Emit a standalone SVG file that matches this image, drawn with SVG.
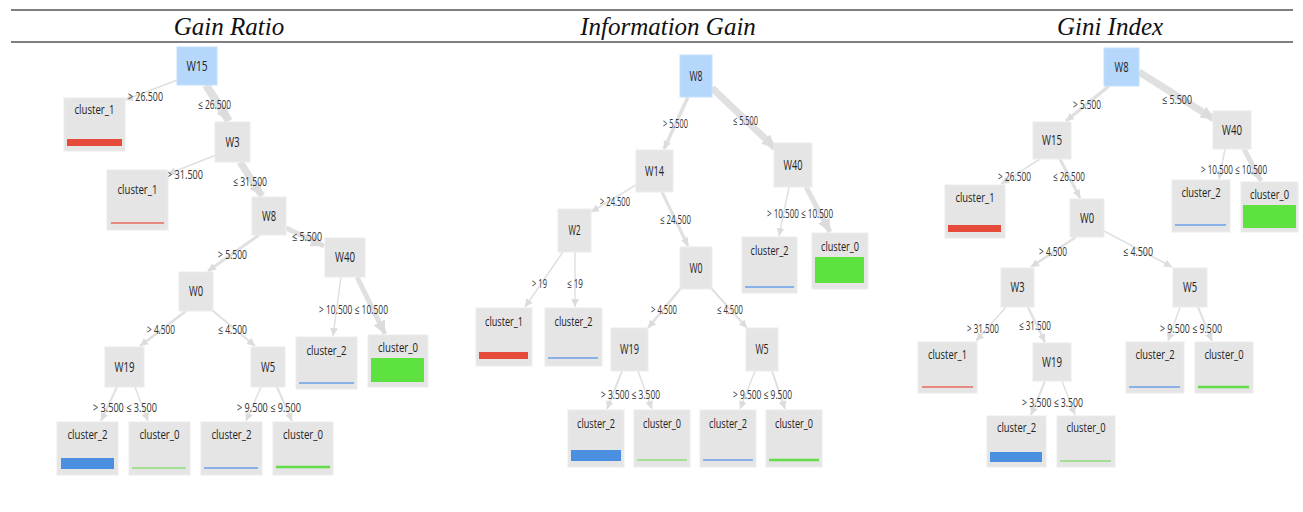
<svg xmlns="http://www.w3.org/2000/svg" width="1303" height="512" viewBox="0 0 1303 512">
  <style>
    .rule { stroke: #000; stroke-width: 1.2; }
    .title { font-family: "Liberation Serif", "Times New Roman", serif; font-style: italic; font-size: 25px; fill: #111; text-anchor: middle; }
    .box { fill: #e5e5e5; stroke: #ececec; stroke-width: 1; }
    .root { fill: #b4d7fb; stroke: #c4e0fc; stroke-width: 1; }
    .nl { font-family: "Open Sans", "Noto Sans", sans-serif; font-size: 14px; fill: #222; text-anchor: middle; }
    .leaf .nl { font-size: 13px; }
    .el { font-family: "Open Sans", "Noto Sans", sans-serif; font-size: 12.5px; fill: #333; }
    .e { stroke: #e0e0e0; fill: none; stroke-linecap: butt; }
    .red { fill: #e64a3b; }
    .blue { fill: #4a8fe0; }
    .green { fill: #5de23f; }
    .redl { stroke: #e66a5e; }
    .bluel { stroke: #6a9fe4; }
    .greenl { stroke: #63dc48; }
  </style>
  <defs>
    <marker id="ah" viewBox="0 0 10 10" refX="10" refY="5" markerWidth="8" markerHeight="8" markerUnits="userSpaceOnUse" orient="auto">
      <path d="M0,0 L10,5 L0,10 z" fill="#dcdcdc"/>
    </marker>
    <marker id="ahl" viewBox="0 0 10 10" refX="10" refY="5" markerWidth="13" markerHeight="13" markerUnits="userSpaceOnUse" orient="auto">
      <path d="M0,0 L10,5 L0,10 z" fill="#dcdcdc"/>
    </marker>
  </defs>

  <!-- header rules and column titles -->
  <line class="rule" x1="11" y1="10" x2="1293" y2="10"/>
  <line class="rule" x1="11" y1="42" x2="1293" y2="42"/>
  <text class="title" x="229" y="35">Gain Ratio</text>
  <text class="title" x="668" y="35">Information Gain</text>
  <text class="title" x="1110" y="35">Gini Index</text>

  <!-- connectors -->
  <g id="connectors">
    <!-- Gain Ratio tree -->
    <line class="e" x1="180" y1="79" x2="125" y2="100" stroke-width="1.5" marker-end="url(#ah)"/>
    <line class="e" x1="206" y1="85" x2="229" y2="121" stroke-width="8" marker-end="url(#ahl)"/>
    <line class="e" x1="216" y1="155" x2="168" y2="174" stroke-width="1.5" marker-end="url(#ah)"/>
    <line class="e" x1="240" y1="162" x2="262" y2="196" stroke-width="7" marker-end="url(#ahl)"/>
    <line class="e" x1="259" y1="235" x2="208" y2="271" stroke-width="3" marker-end="url(#ah)"/>
    <line class="e" x1="286" y1="228" x2="324" y2="246" stroke-width="5" marker-end="url(#ahl)"/>
    <line class="e" x1="186" y1="311" x2="140" y2="346" stroke-width="2.5" marker-end="url(#ah)"/>
    <line class="e" x1="212" y1="310" x2="255" y2="346" stroke-width="2" marker-end="url(#ah)"/>
    <line class="e" x1="341" y1="277" x2="333" y2="336" stroke-width="1.5" marker-end="url(#ah)"/>
    <line class="e" x1="357" y1="277" x2="385" y2="334" stroke-width="5" marker-end="url(#ahl)"/>
    <line class="e" x1="117" y1="387" x2="101" y2="421" stroke-width="2" marker-end="url(#ah)"/>
    <line class="e" x1="135" y1="387" x2="148" y2="421" stroke-width="1.5" marker-end="url(#ah)"/>
    <line class="e" x1="261" y1="387" x2="246" y2="421" stroke-width="1.5" marker-end="url(#ah)"/>
    <line class="e" x1="277" y1="387" x2="292" y2="421" stroke-width="2" marker-end="url(#ah)"/>

    <!-- Information Gain tree -->
    <line class="e" x1="688" y1="97" x2="664" y2="149" stroke-width="3.5" marker-end="url(#ah)"/>
    <line class="e" x1="712" y1="88" x2="775" y2="148" stroke-width="7" marker-end="url(#ahl)"/>
    <line class="e" x1="636" y1="185" x2="591" y2="212" stroke-width="1.5" marker-end="url(#ah)"/>
    <line class="e" x1="662" y1="192" x2="688" y2="246" stroke-width="3" marker-end="url(#ah)"/>
    <line class="e" x1="789" y1="187" x2="779" y2="236" stroke-width="1.5" marker-end="url(#ah)"/>
    <line class="e" x1="806" y1="187" x2="830" y2="232" stroke-width="5" marker-end="url(#ahl)"/>
    <line class="e" x1="563" y1="252" x2="525" y2="307" stroke-width="1.5" marker-end="url(#ah)"/>
    <line class="e" x1="575" y1="252" x2="575" y2="307" stroke-width="1.5" marker-end="url(#ah)"/>
    <line class="e" x1="681" y1="288" x2="648" y2="328" stroke-width="2.5" marker-end="url(#ah)"/>
    <line class="e" x1="711" y1="288" x2="747" y2="328" stroke-width="2" marker-end="url(#ah)"/>
    <line class="e" x1="622" y1="371" x2="607" y2="409" stroke-width="2" marker-end="url(#ah)"/>
    <line class="e" x1="638" y1="371" x2="652" y2="409" stroke-width="1.5" marker-end="url(#ah)"/>
    <line class="e" x1="755" y1="371" x2="740" y2="409" stroke-width="1.5" marker-end="url(#ah)"/>
    <line class="e" x1="772" y1="371" x2="785" y2="409" stroke-width="2" marker-end="url(#ah)"/>

    <!-- Gini Index tree -->
    <line class="e" x1="1109" y1="86" x2="1066" y2="121" stroke-width="3.5" marker-end="url(#ah)"/>
    <line class="e" x1="1139" y1="72" x2="1214" y2="119" stroke-width="7" marker-end="url(#ahl)"/>
    <line class="e" x1="1040" y1="159" x2="1001" y2="184" stroke-width="1.5" marker-end="url(#ah)"/>
    <line class="e" x1="1060" y1="159" x2="1080" y2="198" stroke-width="3" marker-end="url(#ah)"/>
    <line class="e" x1="1225" y1="149" x2="1219" y2="179" stroke-width="1.5" marker-end="url(#ah)"/>
    <line class="e" x1="1244" y1="149" x2="1261" y2="181" stroke-width="5" marker-end="url(#ahl)"/>
    <line class="e" x1="1076" y1="237" x2="1031" y2="267" stroke-width="2.5" marker-end="url(#ah)"/>
    <line class="e" x1="1104" y1="231" x2="1172" y2="267" stroke-width="1.5" marker-end="url(#ah)"/>
    <line class="e" x1="1006" y1="307" x2="976" y2="341" stroke-width="1.5" marker-end="url(#ah)"/>
    <line class="e" x1="1028" y1="307" x2="1045" y2="342" stroke-width="2.5" marker-end="url(#ah)"/>
    <line class="e" x1="1180" y1="307" x2="1168" y2="341" stroke-width="1.5" marker-end="url(#ah)"/>
    <line class="e" x1="1198" y1="307" x2="1212" y2="341" stroke-width="2" marker-end="url(#ah)"/>
    <line class="e" x1="1045" y1="381" x2="1031" y2="415" stroke-width="2" marker-end="url(#ah)"/>
    <line class="e" x1="1062" y1="381" x2="1075" y2="415" stroke-width="1.5" marker-end="url(#ah)"/>
  </g>

  <!-- edge labels -->
  <g id="edge-labels">
    <!-- Gain Ratio -->
    <text class="el" x="128" y="101" textLength="35" lengthAdjust="spacingAndGlyphs">&gt; 26.500</text>
    <text class="el" x="198" y="109" textLength="33" lengthAdjust="spacingAndGlyphs">≤ 26.500</text>
    <text class="el" x="167" y="179" textLength="36" lengthAdjust="spacingAndGlyphs">&gt; 31.500</text>
    <text class="el" x="233" y="186" textLength="34" lengthAdjust="spacingAndGlyphs">≤ 31.500</text>
    <text class="el" x="292" y="241" textLength="30" lengthAdjust="spacingAndGlyphs">≤ 5.500</text>
    <text class="el" x="218" y="259" textLength="29" lengthAdjust="spacingAndGlyphs">&gt; 5.500</text>
    <text class="el" x="147" y="334" textLength="28" lengthAdjust="spacingAndGlyphs">&gt; 4.500</text>
    <text class="el" x="218" y="334" textLength="29" lengthAdjust="spacingAndGlyphs">≤ 4.500</text>
    <text class="el" x="319" y="314" textLength="69" lengthAdjust="spacingAndGlyphs">&gt; 10.500 ≤ 10.500</text>
    <text class="el" x="93" y="412" textLength="64" lengthAdjust="spacingAndGlyphs">&gt; 3.500 ≤ 3.500</text>
    <text class="el" x="237" y="412" textLength="64" lengthAdjust="spacingAndGlyphs">&gt; 9.500 ≤ 9.500</text>
    <!-- Information Gain -->
    <text class="el" x="663" y="128" textLength="25" lengthAdjust="spacingAndGlyphs">&gt; 5.500</text>
    <text class="el" x="733" y="125" textLength="25" lengthAdjust="spacingAndGlyphs">≤ 5.500</text>
    <text class="el" x="600" y="206" textLength="30" lengthAdjust="spacingAndGlyphs">&gt; 24.500</text>
    <text class="el" x="660" y="224" textLength="31" lengthAdjust="spacingAndGlyphs">≤ 24.500</text>
    <text class="el" x="767" y="218" textLength="66" lengthAdjust="spacingAndGlyphs">&gt; 10.500 ≤ 10.500</text>
    <text class="el" x="532" y="288" textLength="15" lengthAdjust="spacingAndGlyphs">&gt; 19</text>
    <text class="el" x="567" y="288" textLength="16" lengthAdjust="spacingAndGlyphs">≤ 19</text>
    <text class="el" x="651" y="314" textLength="26" lengthAdjust="spacingAndGlyphs">&gt; 4.500</text>
    <text class="el" x="717" y="314" textLength="26" lengthAdjust="spacingAndGlyphs">≤ 4.500</text>
    <text class="el" x="601" y="399" textLength="59" lengthAdjust="spacingAndGlyphs">&gt; 3.500 ≤ 3.500</text>
    <text class="el" x="733" y="399" textLength="59" lengthAdjust="spacingAndGlyphs">&gt; 9.500 ≤ 9.500</text>
    <!-- Gini Index -->
    <text class="el" x="1073" y="109" textLength="28" lengthAdjust="spacingAndGlyphs">&gt; 5.500</text>
    <text class="el" x="1162" y="104" textLength="30" lengthAdjust="spacingAndGlyphs">≤ 5.500</text>
    <text class="el" x="998" y="181" textLength="33" lengthAdjust="spacingAndGlyphs">&gt; 26.500</text>
    <text class="el" x="1053" y="181" textLength="32" lengthAdjust="spacingAndGlyphs">≤ 26.500</text>
    <text class="el" x="1201" y="174" textLength="66" lengthAdjust="spacingAndGlyphs">&gt; 10.500 ≤ 10.500</text>
    <text class="el" x="1039" y="256" textLength="28" lengthAdjust="spacingAndGlyphs">&gt; 4.500</text>
    <text class="el" x="1123" y="256" textLength="30" lengthAdjust="spacingAndGlyphs">≤ 4.500</text>
    <text class="el" x="967" y="333" textLength="32" lengthAdjust="spacingAndGlyphs">&gt; 31.500</text>
    <text class="el" x="1019" y="330" textLength="32" lengthAdjust="spacingAndGlyphs">≤ 31.500</text>
    <text class="el" x="1160" y="333" textLength="62" lengthAdjust="spacingAndGlyphs">&gt; 9.500 ≤ 9.500</text>
    <text class="el" x="1022" y="407" textLength="61" lengthAdjust="spacingAndGlyphs">&gt; 3.500 ≤ 3.500</text>
  </g>

  <!-- Gain Ratio nodes -->
  <g id="gr-W15"><rect class="root" x="177" y="47" width="40" height="38"/><text class="nl" x="197" y="71" textLength="21" lengthAdjust="spacingAndGlyphs">W15</text></g>
  <g id="gr-W3"><rect class="box" x="215" y="122" width="35" height="40"/><text class="nl" x="232.5" y="147" textLength="14" lengthAdjust="spacingAndGlyphs">W3</text></g>
  <g id="gr-W8"><rect class="box" x="252" y="197" width="34" height="38"/><text class="nl" x="269" y="221" textLength="14" lengthAdjust="spacingAndGlyphs">W8</text></g>
  <g id="gr-W40"><rect class="box" x="325" y="238" width="40" height="39"/><text class="nl" x="345" y="262" textLength="20" lengthAdjust="spacingAndGlyphs">W40</text></g>
  <g id="gr-W0"><rect class="box" x="179" y="272" width="34" height="39"/><text class="nl" x="196" y="296" textLength="14" lengthAdjust="spacingAndGlyphs">W0</text></g>
  <g id="gr-W19"><rect class="box" x="105" y="347" width="39" height="40"/><text class="nl" x="124.5" y="372" textLength="20" lengthAdjust="spacingAndGlyphs">W19</text></g>
  <g id="gr-W5"><rect class="box" x="251" y="347" width="34" height="40"/><text class="nl" x="268" y="372" textLength="14" lengthAdjust="spacingAndGlyphs">W5</text></g>
  <g id="gr-leaf-1a" class="leaf"><rect class="box" x="64" y="98" width="61" height="53"/><text class="nl" x="94.5" y="114" textLength="40" lengthAdjust="spacingAndGlyphs">cluster_1</text><rect class="red" x="67" y="139" width="55" height="7"/></g>
  <g id="gr-leaf-1b" class="leaf"><rect class="box" x="107" y="170" width="61" height="60"/><text class="nl" x="137.5" y="194" textLength="40" lengthAdjust="spacingAndGlyphs">cluster_1</text><line class="redl" x1="111" y1="223" x2="164" y2="223" stroke-width="1.5"/></g>
  <g id="gr-leaf-2a" class="leaf"><rect class="box" x="296" y="337" width="61" height="52"/><text class="nl" x="326.5" y="355" textLength="40" lengthAdjust="spacingAndGlyphs">cluster_2</text><line class="bluel" x1="299" y1="383" x2="354" y2="383" stroke-width="1.5"/></g>
  <g id="gr-leaf-0a" class="leaf"><rect class="box" x="368" y="335" width="60" height="52"/><text class="nl" x="398" y="352" textLength="40" lengthAdjust="spacingAndGlyphs">cluster_0</text><rect class="green" x="371" y="358" width="53" height="24"/></g>
  <g id="gr-leaf-2b" class="leaf"><rect class="box" x="57" y="422" width="61" height="53"/><text class="nl" x="87.5" y="439" textLength="40" lengthAdjust="spacingAndGlyphs">cluster_2</text><rect class="blue" x="61" y="458" width="53" height="11"/></g>
  <g id="gr-leaf-0b" class="leaf"><rect class="box" x="129" y="422" width="61" height="53"/><text class="nl" x="159.5" y="439" textLength="40" lengthAdjust="spacingAndGlyphs">cluster_0</text><line class="greenl" x1="132" y1="468" x2="186" y2="468" stroke-width="1.2"/></g>
  <g id="gr-leaf-2c" class="leaf"><rect class="box" x="201" y="422" width="61" height="53"/><text class="nl" x="231.5" y="439" textLength="40" lengthAdjust="spacingAndGlyphs">cluster_2</text><line class="bluel" x1="204" y1="468" x2="258" y2="468" stroke-width="1.5"/></g>
  <g id="gr-leaf-0c" class="leaf"><rect class="box" x="273" y="422" width="60" height="53"/><text class="nl" x="303" y="439" textLength="40" lengthAdjust="spacingAndGlyphs">cluster_0</text><line class="greenl" x1="276" y1="467" x2="330" y2="467" stroke-width="2.5"/></g>

  <!-- Information Gain nodes -->
  <g id="ig-W8"><rect class="root" x="680" y="55" width="32" height="42"/><text class="nl" x="696" y="81" textLength="13" lengthAdjust="spacingAndGlyphs">W8</text></g>
  <g id="ig-W14"><rect class="box" x="636" y="150" width="37" height="42"/><text class="nl" x="654.5" y="176" textLength="19" lengthAdjust="spacingAndGlyphs">W14</text></g>
  <g id="ig-W40"><rect class="box" x="774" y="143" width="38" height="44"/><text class="nl" x="793" y="170" textLength="19" lengthAdjust="spacingAndGlyphs">W40</text></g>
  <g id="ig-W2"><rect class="box" x="558" y="209" width="33" height="43"/><text class="nl" x="574.5" y="235" textLength="12" lengthAdjust="spacingAndGlyphs">W2</text></g>
  <g id="ig-W0"><rect class="box" x="680" y="247" width="32" height="42"/><text class="nl" x="696" y="273" textLength="13" lengthAdjust="spacingAndGlyphs">W0</text></g>
  <g id="ig-W19"><rect class="box" x="611" y="328" width="37" height="43"/><text class="nl" x="629.5" y="354" textLength="19" lengthAdjust="spacingAndGlyphs">W19</text></g>
  <g id="ig-W5"><rect class="box" x="746" y="328" width="32" height="43"/><text class="nl" x="762" y="354" textLength="13" lengthAdjust="spacingAndGlyphs">W5</text></g>
  <g id="ig-leaf-2a" class="leaf"><rect class="box" x="742" y="237" width="55" height="56"/><text class="nl" x="769.5" y="255" textLength="38" lengthAdjust="spacingAndGlyphs">cluster_2</text><line class="bluel" x1="745" y1="287" x2="794" y2="287" stroke-width="1.5"/></g>
  <g id="ig-leaf-0a" class="leaf"><rect class="box" x="812" y="233" width="56" height="56"/><text class="nl" x="840" y="251" textLength="38" lengthAdjust="spacingAndGlyphs">cluster_0</text><rect class="green" x="815" y="257" width="49" height="26"/></g>
  <g id="ig-leaf-1" class="leaf"><rect class="box" x="476" y="308" width="56" height="58"/><text class="nl" x="504" y="326" textLength="38" lengthAdjust="spacingAndGlyphs">cluster_1</text><rect class="red" x="479" y="352" width="49" height="7"/></g>
  <g id="ig-leaf-2b" class="leaf"><rect class="box" x="545" y="308" width="57" height="58"/><text class="nl" x="573.5" y="326" textLength="38" lengthAdjust="spacingAndGlyphs">cluster_2</text><line class="bluel" x1="548" y1="358" x2="598" y2="358" stroke-width="1.5"/></g>
  <g id="ig-leaf-2c" class="leaf"><rect class="box" x="568" y="410" width="56" height="57"/><text class="nl" x="596" y="428" textLength="38" lengthAdjust="spacingAndGlyphs">cluster_2</text><rect class="blue" x="571" y="450" width="50" height="11"/></g>
  <g id="ig-leaf-0b" class="leaf"><rect class="box" x="634" y="410" width="56" height="57"/><text class="nl" x="662" y="428" textLength="38" lengthAdjust="spacingAndGlyphs">cluster_0</text><line class="greenl" x1="637" y1="460" x2="687" y2="460" stroke-width="1.2"/></g>
  <g id="ig-leaf-2d" class="leaf"><rect class="box" x="700" y="410" width="56" height="57"/><text class="nl" x="728" y="428" textLength="38" lengthAdjust="spacingAndGlyphs">cluster_2</text><line class="bluel" x1="703" y1="460" x2="753" y2="460" stroke-width="1.5"/></g>
  <g id="ig-leaf-0c" class="leaf"><rect class="box" x="766" y="410" width="56" height="57"/><text class="nl" x="794" y="428" textLength="38" lengthAdjust="spacingAndGlyphs">cluster_0</text><line class="greenl" x1="769" y1="460" x2="819" y2="460" stroke-width="2.5"/></g>

  <!-- Gini Index nodes -->
  <g id="gi-W8"><rect class="root" x="1104" y="48" width="35" height="38"/><text class="nl" x="1121.5" y="72" textLength="14" lengthAdjust="spacingAndGlyphs">W8</text></g>
  <g id="gi-W15"><rect class="box" x="1033" y="122" width="38" height="37"/><text class="nl" x="1052" y="145" textLength="20" lengthAdjust="spacingAndGlyphs">W15</text></g>
  <g id="gi-W40"><rect class="box" x="1213" y="111" width="38" height="38"/><text class="nl" x="1232" y="135" textLength="20" lengthAdjust="spacingAndGlyphs">W40</text></g>
  <g id="gi-W0"><rect class="box" x="1070" y="199" width="34" height="38"/><text class="nl" x="1087" y="223" textLength="14" lengthAdjust="spacingAndGlyphs">W0</text></g>
  <g id="gi-W3"><rect class="box" x="1001" y="268" width="33" height="39"/><text class="nl" x="1017.5" y="292" textLength="14" lengthAdjust="spacingAndGlyphs">W3</text></g>
  <g id="gi-W5"><rect class="box" x="1173" y="268" width="34" height="39"/><text class="nl" x="1190" y="292" textLength="14" lengthAdjust="spacingAndGlyphs">W5</text></g>
  <g id="gi-W19"><rect class="box" x="1033" y="343" width="38" height="38"/><text class="nl" x="1052" y="367" textLength="20" lengthAdjust="spacingAndGlyphs">W19</text></g>
  <g id="gi-leaf-1a" class="leaf"><rect class="box" x="945" y="185" width="60" height="53"/><text class="nl" x="975" y="202" textLength="39" lengthAdjust="spacingAndGlyphs">cluster_1</text><rect class="red" x="948" y="225" width="53" height="7"/></g>
  <g id="gi-leaf-2a" class="leaf"><rect class="box" x="1172" y="180" width="58" height="52"/><text class="nl" x="1201" y="197" textLength="39" lengthAdjust="spacingAndGlyphs">cluster_2</text><line class="bluel" x1="1175" y1="225" x2="1226" y2="225" stroke-width="1.5"/></g>
  <g id="gi-leaf-0a" class="leaf"><rect class="box" x="1241" y="182" width="57" height="50"/><text class="nl" x="1269.5" y="199" textLength="39" lengthAdjust="spacingAndGlyphs">cluster_0</text><rect class="green" x="1243" y="205" width="53" height="23"/></g>
  <g id="gi-leaf-1b" class="leaf"><rect class="box" x="918" y="342" width="59" height="51"/><text class="nl" x="947.5" y="359" textLength="39" lengthAdjust="spacingAndGlyphs">cluster_1</text><line class="redl" x1="922" y1="387" x2="973" y2="387" stroke-width="1.5"/></g>
  <g id="gi-leaf-2b" class="leaf"><rect class="box" x="1126" y="342" width="58" height="51"/><text class="nl" x="1155" y="359" textLength="39" lengthAdjust="spacingAndGlyphs">cluster_2</text><line class="bluel" x1="1129" y1="387" x2="1180" y2="387" stroke-width="1.5"/></g>
  <g id="gi-leaf-0b" class="leaf"><rect class="box" x="1195" y="342" width="58" height="51"/><text class="nl" x="1224" y="359" textLength="39" lengthAdjust="spacingAndGlyphs">cluster_0</text><line class="greenl" x1="1198" y1="387" x2="1249" y2="387" stroke-width="2.5"/></g>
  <g id="gi-leaf-2c" class="leaf"><rect class="box" x="987" y="416" width="59" height="51"/><text class="nl" x="1016.5" y="432" textLength="39" lengthAdjust="spacingAndGlyphs">cluster_2</text><rect class="blue" x="990" y="452" width="52" height="10"/></g>
  <g id="gi-leaf-0c" class="leaf"><rect class="box" x="1057" y="416" width="58" height="51"/><text class="nl" x="1086" y="432" textLength="39" lengthAdjust="spacingAndGlyphs">cluster_0</text><line class="greenl" x1="1060" y1="461" x2="1111" y2="461" stroke-width="1.2"/></g>
</svg>
